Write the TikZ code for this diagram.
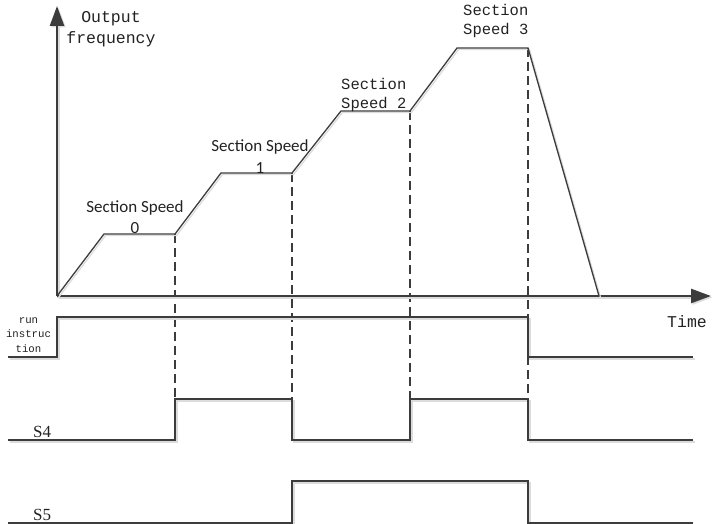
\documentclass[tikz,border=0pt]{standalone}
\usepackage{fontspec}
\setmainfont{Liberation Serif}
\newfontfamily\monof{Liberation Mono}
\newfontfamily\calib{Carlito}
\usetikzlibrary{arrows.meta}
\definecolor{lc}{HTML}{3C3C3C}
\definecolor{sh}{HTML}{DCDCDC}
\definecolor{tc}{HTML}{222222}
\begin{document}
\begin{tikzpicture}[x=1pt,y=-1pt,
  shadowed/.style={preaction={draw=sh,line width=#1,transform canvas={shift={(1.5,1.5)}}}},
  axisline/.style={draw=lc,line width=2.6pt,shadowed=2.6pt,-{Triangle[length=20pt,width=14pt]}},
  profile/.style={draw=lc,line width=1.3pt,shadowed=1.3pt,line join=miter},
  signal/.style={draw=lc,line width=2pt,shadowed=2pt,line join=miter},
  guide/.style={draw=lc,line width=1.3pt,dash pattern=on 9pt off 5pt},
  mono/.style={inner sep=0pt,text=tc,font=\monof\fontsize{#1}{19}\selectfont},
  cal/.style={inner sep=0pt,text=tc,align=center,font=\calib\fontsize{17}{21}\selectfont},
  serifl/.style={inner sep=0pt,text=tc,font=\fontsize{17}{20}\selectfont}]
\useasboundingbox (0,0) rectangle (712,524);
% axes
\coordinate (O) at (57,296);
\coordinate (ytop) at (57,6);
\coordinate (xend) at (711,296);
% profile points
\coordinate (p1) at (104,234);
\coordinate (p2) at (175,234);
\coordinate (p3) at (221,173);
\coordinate (p4) at (292,173);
\coordinate (p5) at (341,111);
\coordinate (p6) at (410,111);
\coordinate (p7) at (457,48);
\coordinate (p8) at (528,48);
\coordinate (p9) at (599,296);
% guide feet
\coordinate (g1) at (175,399);
\coordinate (g2) at (292,399);
\coordinate (g3) at (410,399);
\coordinate (g4) at (528,399);
% dashed guides
\draw[guide] (p2) -- (g1);
\draw[guide] (p4) -- (g2);
\draw[guide] (p6) -- (g3);
\draw[guide] (p8) -- (g4);
% axes
\draw[axisline] (O) -- (ytop);
\draw[axisline] (O) -- (xend);
% frequency profile
\draw[profile] (O) -- (p1) -- (p2) -- (p3) -- (p4) -- (p5) -- (p6) -- (p7) -- (p8) -- (p9);
% run instruction
\draw[signal] (8,357) -- (57,357) -- (57,317) -- (528,317) -- (528,357) -- (693,357);
% S4
\draw[signal] (8,440) -- (175,440) -- (175,399) -- (292,399) -- (292,440) -- (410,440) -- (410,399) -- (528,399) -- (528,440) -- (693,440);
% S5
\draw[signal] (8,523) -- (292,523) -- (292,481) -- (528,481) -- (528,523) -- (693,523);
% labels (multi-line nodes: base = baseline of last line)
\node[mono=16,align=center,anchor=base,font=\monof\fontsize{16.5}{21}\selectfont] (outf) at (111,44) {Output\\frequency};
\node[mono=16.5,anchor=base west] (time) at (667,327) {Time};
\node[cal,anchor=base] (ss0) at (135,233) {Section Speed\\0};
\node[cal,anchor=base] (ss1) at (260,173) {Section Speed\\1};
\node[mono=15.5,align=left,anchor=base west] (ss2) at (341,109) {Section\\Speed 2};
\node[mono=15.5,align=left,anchor=base west] (ss3) at (463,35) {Section\\Speed 3};
\node[inner sep=0pt,text=tc,align=center,anchor=base,font=\monof\fontsize{10.7}{14.5}\selectfont] (run) at (28.5,352) {run\\instruc\\tion};
\node[serifl,anchor=base west] (s4) at (33,437) {S4};
\node[serifl,anchor=base west] (s5) at (33,520) {S5};
\end{tikzpicture}
\end{document}
